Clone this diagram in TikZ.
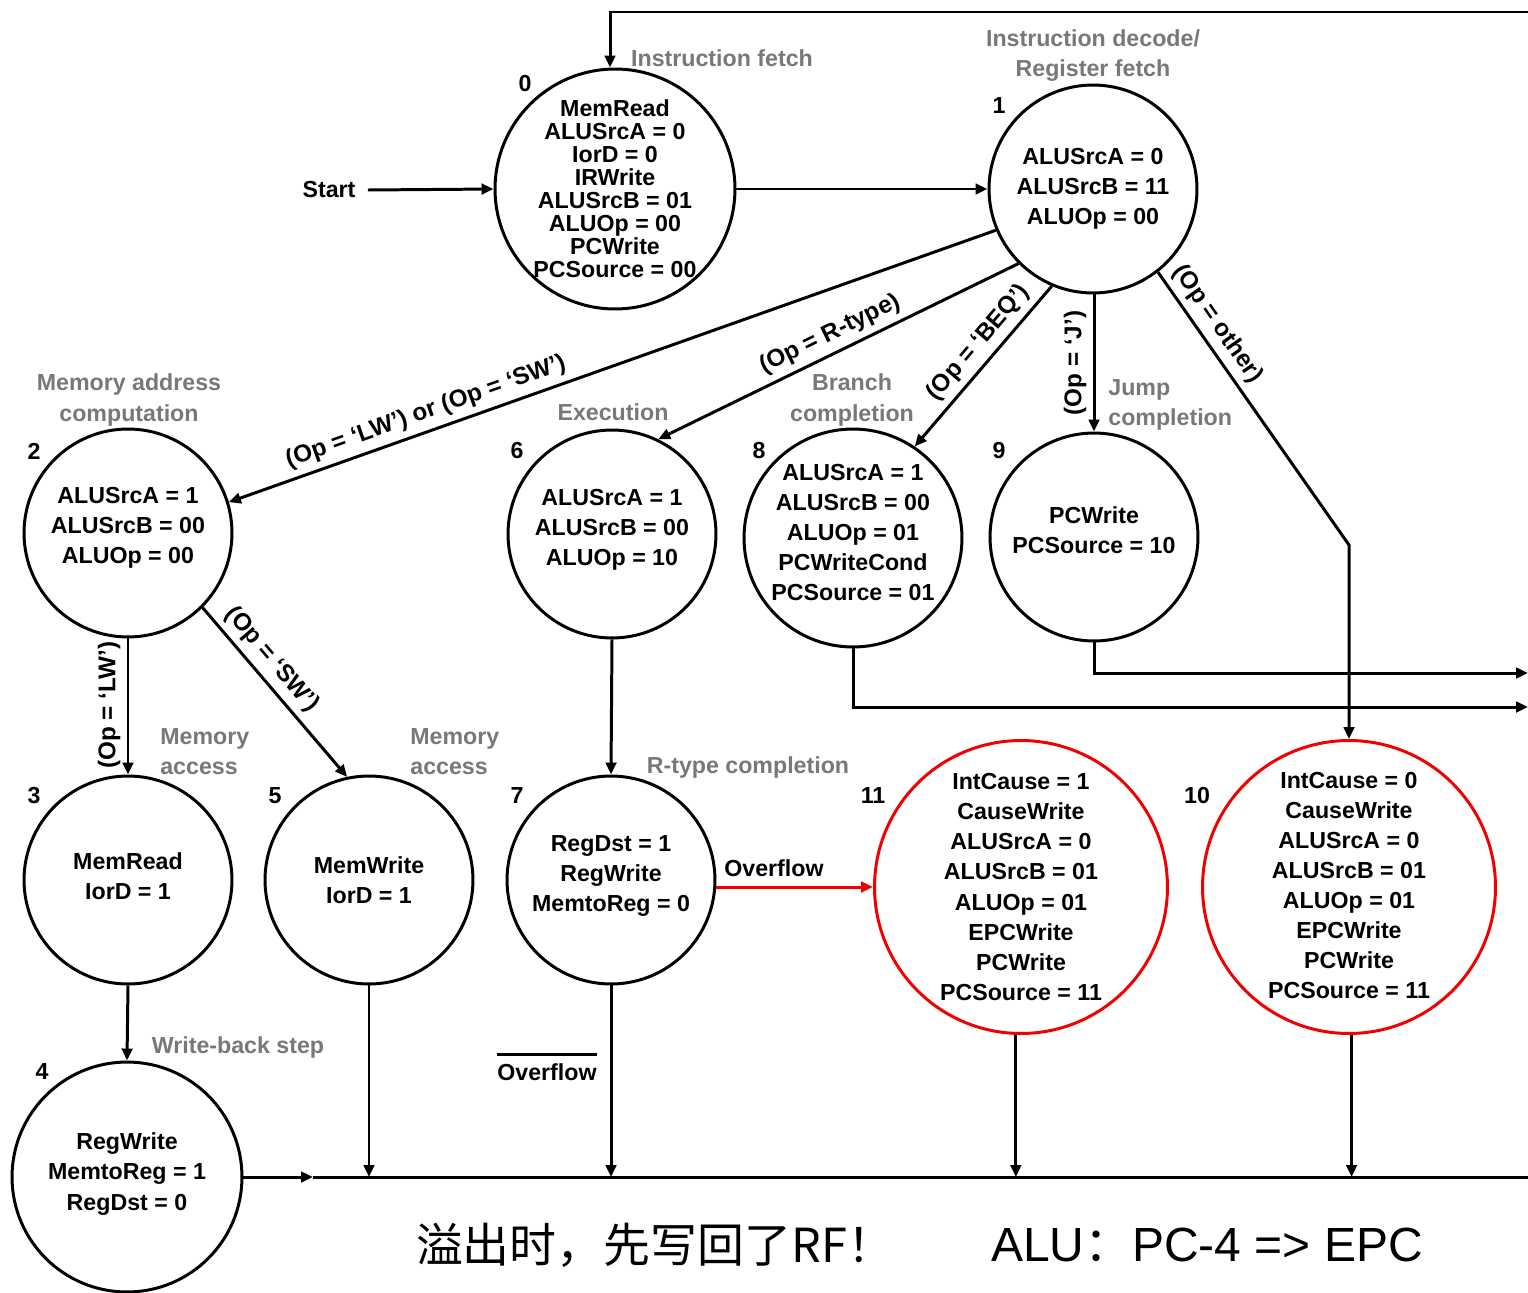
\documentclass[tikz,border=0pt]{standalone}
\usepackage{fontspec}
\setmainfont{Liberation Sans}
\newfontfamily\cjk{Noto Sans CJK SC}
\usetikzlibrary{arrows.meta}
\definecolor{lblgray}{RGB}{120,120,120}
\definecolor{excred}{RGB}{240,0,0}
\begin{document}
\begin{tikzpicture}[x=0.02cm,y=-0.02cm,
  font=\bfseries\fontsize{13.2}{17.1}\selectfont,
  wire/.style={line width=1.7pt},
  arr/.style={wire,-{Triangle[length=0.24cm,width=0.21cm]}},
  st/.style={circle,draw,line width=1.7pt,inner sep=0pt,minimum size=4.16cm},
  exc/.style={st,draw=excred,minimum size=5.86cm},
  txt/.style={inner sep=0pt,align=center},
  gl/.style={text=lblgray,inner sep=0pt,align=center},
  num/.style={inner sep=0pt},
  labfont/.style={font=\bfseries\fontsize{13.8}{16}\selectfont},
  lab/.style={labfont,sloped,above,inner sep=3.5pt},
  vlab/.style={labfont,rotate=90,anchor=south,inner sep=3.5pt},
]
\useasboundingbox (0,0) rectangle (1528,1292);

% ---- state circles ----
\node[st,minimum size=4.8cm] (s0) at (615,189) {};
\node[st] (s1) at (1093,189) {};
\node[st] (s2) at (128,533) {};
\node[st] (s6) at (612,534) {};
\node[st,minimum size=4.36cm] (s8) at (853,538) {};
\node[st] (s9) at (1094,537) {};
\node[st] (s3) at (128,880) {};
\node[st] (s5) at (369,880) {};
\node[st] (s7) at (611,880) {};
\node[exc] (s11) at (1021,887) {};
\node[exc] (s10) at (1349,887) {};
\node[st,minimum size=4.6cm] (s4) at (127,1177) {};

% ---- control signals of each state ----
\node[txt,font=\bfseries\fontsize{13.2}{13.1}\selectfont] (t0) at (s0)
  {MemRead\\ALUSrcA = 0\\IorD = 0\\IRWrite\\ALUSrcB = 01\\ALUOp = 00\\PCWrite\\PCSource = 00};
\node[txt] (t1) at (s1) {ALUSrcA = 0\\ALUSrcB = 11\\ALUOp = 00};
\node[txt] (t2) at ([yshift=0.1cm]s2) {ALUSrcA = 1\\ALUSrcB = 00\\ALUOp = 00};
\node[txt] (t6) at ([yshift=0.08cm]s6) {ALUSrcA = 1\\ALUSrcB = 00\\ALUOp = 10};
\node[txt] (t8) at ([yshift=0.11cm]s8) {ALUSrcA = 1\\ALUSrcB = 00\\ALUOp = 01\\PCWriteCond\\PCSource = 01};
\node[txt] (t9) at ([yshift=0.14cm]s9) {PCWrite\\PCSource = 10};
\node[txt] (t3) at ([yshift=0.08cm]s3) {MemRead\\IorD = 1};
\node[txt] (t5) at (s5) {MemWrite\\IorD = 1};
\node[txt] (t7) at ([yshift=0.08cm]s7) {RegDst = 1\\RegWrite\\MemtoReg = 0};
\node[txt] (t11) at (s11) {IntCause = 1\\CauseWrite\\ALUSrcA = 0\\ALUSrcB = 01\\ALUOp = 01\\EPCWrite\\PCWrite\\PCSource = 11};
\node[txt] (t10) at ([yshift=0.03cm]s10) {IntCause = 0\\CauseWrite\\ALUSrcA = 0\\ALUSrcB = 01\\ALUOp = 01\\EPCWrite\\PCWrite\\PCSource = 11};
\node[txt] (t4) at ([yshift=0.06cm]s4) {RegWrite\\MemtoReg = 1\\RegDst = 0};

% ---- state numbers ----
\node[num] (n0) at (525,84) {0};
\node[num] (n1) at (999,106) {1};
\node[num] (n2) at (34,451) {2};
\node[num] (n6) at (517,451) {6};
\node[num] (n8) at (759,451) {8};
\node[num] (n9) at (999,451) {9};
\node[num] (n3) at (34,796) {3};
\node[num] (n5) at (275,796) {5};
\node[num] (n7) at (517,796) {7};
\node[num] (n11) at (873,796) {11};
\node[num] (n10) at (1197,796) {10};
\node[num] (n4) at (42,1072) {4};

% ---- step captions ----
\node[gl] (g0) at (722,58) {Instruction fetch};
\node[gl] (g1) at (1093,56) {Instruction decode/\\Register fetch};
\node[gl] (g2) at (129,400) {Memory address\\computation};
\node[gl] (g6) at (613,412) {Execution};
\node[gl] (g8) at (852,400) {Branch\\completion};
\node[gl,align=left,anchor=west] (g9) at (1108,405) {Jump\\completion};
\node[gl,align=left,anchor=west] (g3) at (160,752) {Memory\\access};
\node[gl,align=left,anchor=west] (g5) at (410,752) {Memory\\access};
\node[gl] (g7) at (748,767) {R-type completion};
\node[gl] (g4) at (238,1047) {Write-back step};

% ---- start ----
\node[inner xsep=0.24cm,inner ysep=0pt] (start) at (329,190) {Start};
\draw[arr] (start.east) -- (s0.west);

% ---- transitions ----
\draw[arr] (s0.east) -- (s1.west);
\draw[arr] (s1.203) -- node[lab,pos=0.735] {(Op = `LW') or (Op = `SW')} (s2.17);
\draw[arr] (s1.225) -- node[lab,pos=0.5] {(Op = R-type)} (s6.64);
\draw[arr] (s1.247) -- node[lab,pos=0.43] {(Op = `BEQ')} (s8.56);
\draw[arr] (s9.north |- s1.south) -- node[vlab,pos=0.5] {(Op = `J')} (s9.north);
\coordinate (c10) at (1349,545);
\draw[arr] (s1.308) -- node[lab,pos=0.23] {(Op = other)} (c10) -- (s10.north);
\draw[arr] (s2.south) -- node[vlab,pos=0.49] {(Op = `LW')} (s3.north);
\draw[arr] (s2.315) -- node[lab,pos=0.38] {(Op = `SW')} (s5.102);
\draw[arr] (s6.south) -- (s7.north);
\draw[arr] (s3.south) -- (s4.north);
\draw[arr,draw=excred] (s11.west -| s7.east) -- (s11.west);
\node[inner sep=0pt] (ovl) at (774,868) {Overflow};

% ---- returns to fetch ----
\coordinate (loopR) at (1528,12);
\coordinate (loopL) at (610,12);
\draw[arr] (loopR) -- (loopL) -- (loopL |- s0.north);
\coordinate (r9) at (1528,673);
\draw[arr] (s9.south) |- (r9);
\coordinate (r8) at (1528,707);
\draw[arr] (s8.south) |- (r8);

\coordinate (busA) at (313,1177);
\coordinate (busR) at (1528,1177);
\draw[arr] (s4.east) -- (busA);
\draw[wire] (busA) -- (busR);
\draw[arr] (s5.south) -- (s5.south |- busR);
\draw[arr] (s7.south) -- (s7.south |- busR);
\draw[arr] (s11.268) -- (s11.268 |- busR);
\draw[arr] (s10.271) -- (s10.271 |- busR);

\node[inner sep=0pt] (novf) at (547,1072) {Overflow};
\draw[wire] ([yshift=0.17cm]novf.north west) -- ([yshift=0.17cm]novf.north east);

% ---- notes ----
\node[inner sep=0pt,font=\cjk\fontsize{26.7}{30}\selectfont] (cn) at (655,1245) {溢出时，先写回了RF！};
\node[inner sep=0pt,font=\mdseries\fontsize{27.3}{30}\selectfont] (alu) at (1207,1245) {ALU{\cjk ：}PC-4 => EPC};
\end{tikzpicture}
\end{document}
